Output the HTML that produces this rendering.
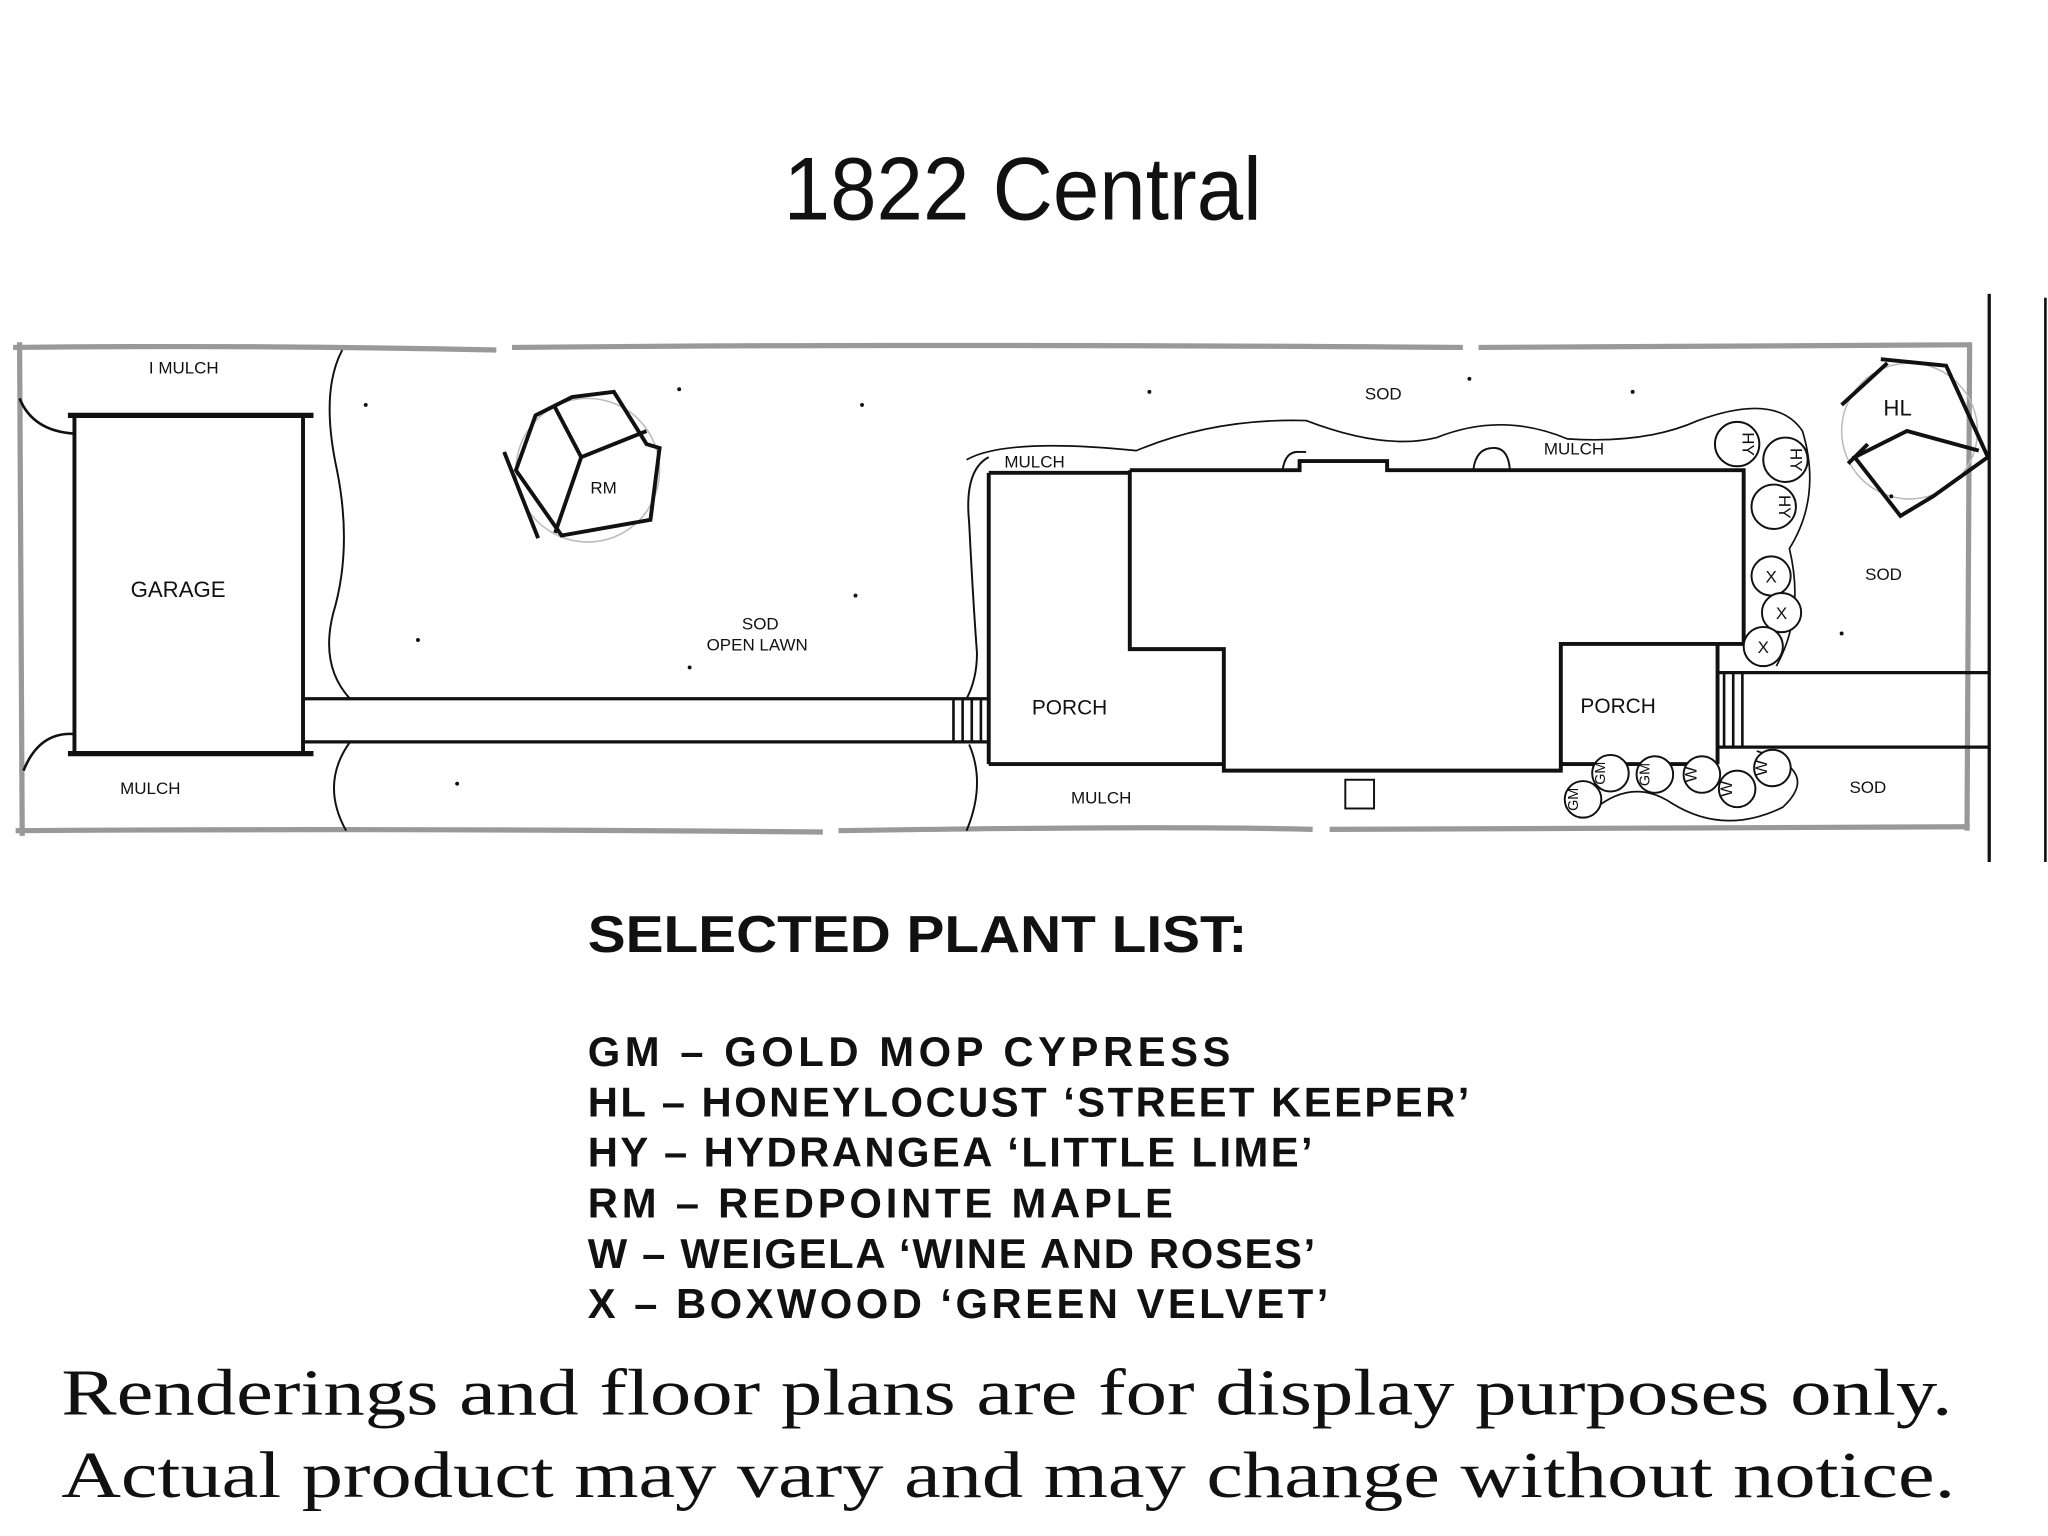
<!DOCTYPE html>
<html><head><meta charset="utf-8"><style>
html,body{margin:0;padding:0;background:#fff;}
svg{display:block;}
.s{font-family:"Liberation Sans",sans-serif;fill:#111;}
.l{font-family:"Liberation Sans",sans-serif;font-weight:bold;fill:#111;}
.f{font-family:"Liberation Serif",serif;fill:#111;}
</style></head><body>
<svg width="2048" height="1536" viewBox="0 0 1568 1176" xmlns="http://www.w3.org/2000/svg">
<rect width="1568" height="1176" fill="#fff"/>
<text x="783" y="168" text-anchor="middle" class="s" font-size="68" textLength="366" lengthAdjust="spacingAndGlyphs">1822 Central</text>

<!-- property lines gray -->
<g stroke="#999" stroke-width="4" fill="none">
<path d="M10 266 Q200 264 380 268 M392 266 Q700 263 1120 266 M1132 266 L1508 264"/>
<path d="M12 636 Q300 634 630 637 M642 636 Q900 632 1005 635 M1018 635 L1508 633"/>
<path d="M15 262 L17 640"/>
<path d="M1508 262 L1506 636"/>
</g>
<g stroke="#111" stroke-width="2.5" fill="none">
<path d="M1523 225 L1523 660"/>
<path d="M1566 228 L1566 660" stroke-width="2"/>
</g>

<!-- garage -->
<g stroke="#111" fill="none">
<rect x="57" y="318" width="175" height="259" stroke-width="3"/>
<path d="M52 318 L240 318 M52 577 L240 577" stroke-width="4"/>
<path d="M15 305 Q25 330 57 332 M57 562 Q30 560 18 590" stroke-width="2"/>
<!-- walkway -->
<path d="M232 535 L757 535 M232 568 L757 568" stroke-width="2.5"/>
<path d="M730 535 V568 M737 535 V568 M744 535 V568 M751 535 V568" stroke-width="2"/>
<!-- sod boundaries -->
<path d="M262 268 Q245 300 258 360 Q270 420 255 470 Q245 510 268 535" stroke-width="1.5"/>
<path d="M268 568 Q245 600 265 636" stroke-width="1.5"/>
<path d="M757 350 Q738 360 742 400 Q745 460 748 500 Q748 520 740 535" stroke-width="1.5"/>
<path d="M742 570 Q755 600 740 636" stroke-width="1.5"/>
<path d="M740 352 Q770 335 870 345 Q930 320 1000 322 Q1060 345 1100 335 Q1150 315 1200 336 Q1260 340 1300 322 Q1360 300 1380 330 Q1395 380 1370 420 Q1382 470 1360 510 M1345 575 Q1395 590 1365 618 Q1320 640 1280 615 Q1250 595 1220 620" stroke-width="1.3"/>
<!-- house -->
<g stroke-width="3">
<path d="M757 362 L865 362 M757 362 V585 M757 585 L937 585"/>
<path d="M865 360 L995 360 L995 353 L1062 353 L1062 360 L1335 360 L1335 493"/>
<path d="M865 360 V497 L937 497 V590 L1195 590 V493 L1335 493"/>
<path d="M1195 585 L1315 585 M1315 493 V585"/>
<path d="M982 360 Q984 345 995 346 L1000 346 M1128 360 Q1130 342 1145 343 Q1155 344 1156 360" stroke-width="1.5"/>
</g>
<path d="M1315 515 L1523 515 M1315 572 L1523 572" stroke-width="2.5"/>
<path d="M1320 515 V572 M1327 515 V572 M1334 515 V572" stroke-width="2"/>
<rect x="1030" y="597" width="22" height="22" stroke-width="1.5"/>
</g>

<!-- RM tree -->
<g stroke="#111" fill="none" stroke-width="3">
<circle cx="450" cy="360" r="55" stroke="#bbb" stroke-width="1.2"/>
<path d="M410 318 L438 304 L470 300 L495 340 L505 343 L498 398 L430 410 L395 360 Z"/>
<path d="M425 312 L445 350 L495 330 M445 350 L425 408"/>
<path d="M386 346 L412 412"/>
</g>
<text x="452" y="378" class="s" font-size="13">RM</text>

<!-- HL tree -->
<g stroke="#111" fill="none" stroke-width="3">
<circle cx="1462" cy="330" r="52" stroke="#bbb" stroke-width="1.2"/>
<path d="M1440 275 L1490 280 L1522 350 L1480 380 L1455 395 L1420 350 L1460 330 L1515 345"/>
<path d="M1410 310 L1445 278 M1415 355 L1430 340"/>
</g>
<text x="1442" y="318" class="s" font-size="17">HL</text>

<!-- plant circles -->
<g stroke="#111" fill="#fff" stroke-width="1.5">
<circle cx="1330" cy="340" r="17"/><circle cx="1367" cy="352" r="17"/><circle cx="1358" cy="388" r="17"/>
<circle cx="1356" cy="441" r="15"/><circle cx="1364" cy="469" r="15"/><circle cx="1350" cy="495" r="15"/>
<circle cx="1233" cy="592" r="14"/><circle cx="1267" cy="593" r="14"/><circle cx="1212" cy="612" r="14"/>
<circle cx="1303" cy="593" r="14"/><circle cx="1357" cy="588" r="14"/><circle cx="1330" cy="604" r="14"/>
</g>
<g class="s" font-size="13" text-anchor="middle">
<text transform="translate(1334,340) rotate(90)">HY</text>
<text transform="translate(1371,352) rotate(90)">HY</text>
<text transform="translate(1362,388) rotate(90)">HY</text>
<text x="1356" y="446">X</text><text x="1364" y="474">X</text><text x="1350" y="500">X</text>
<text transform="translate(1229,592) rotate(-90)" font-size="11">GM</text>
<text transform="translate(1263,593) rotate(-90)" font-size="11">GM</text>
<text transform="translate(1208,612) rotate(-90)" font-size="11">GM</text>
<text transform="translate(1299,593) rotate(-90)">W</text>
<text transform="translate(1353,588) rotate(-90)">W</text>
<text transform="translate(1326,604) rotate(-90)">W</text>
</g>

<!-- labels -->
<g class="s" font-size="13">
<text x="114" y="286">I MULCH</text>
<text x="100" y="457" font-size="17">GARAGE</text>
<text x="568" y="482">SOD</text>
<text x="541" y="498">OPEN LAWN</text>
<text x="92" y="608">MULCH</text>
<text x="769" y="358">MULCH</text>
<text x="1045" y="306">SOD</text>
<text x="1182" y="348">MULCH</text>
<text x="1428" y="444">SOD</text>
<text x="790" y="547" font-size="16">PORCH</text>
<text x="1210" y="546" font-size="16">PORCH</text>
<text x="820" y="615">MULCH</text>
<text x="1416" y="607">SOD</text>
</g>
<g fill="#111">
<circle cx="280" cy="310" r="1.5"/><circle cx="520" cy="298" r="1.5"/><circle cx="660" cy="310" r="1.5"/>
<circle cx="655" cy="456" r="1.5"/><circle cx="320" cy="490" r="1.5"/><circle cx="528" cy="511" r="1.5"/>
<circle cx="880" cy="300" r="1.5"/><circle cx="1125" cy="290" r="1.5"/><circle cx="1250" cy="300" r="1.5"/>
<circle cx="1410" cy="485" r="1.5"/><circle cx="1448" cy="380" r="1.5"/><circle cx="350" cy="600" r="1.5"/>
</g>

<!-- plant list -->
<text x="450" y="729" class="l" font-size="40" textLength="505" lengthAdjust="spacingAndGlyphs">SELECTED PLANT LIST:</text>
<g class="l" font-size="32" lengthAdjust="spacingAndGlyphs">
<text x="450" y="816" textLength="492">GM – GOLD MOP CYPRESS</text>
<text x="450" y="855" textLength="675">HL – HONEYLOCUST ‘STREET KEEPER’</text>
<text x="450" y="893" textLength="555">HY – HYDRANGEA ‘LITTLE LIME’</text>
<text x="450" y="932" textLength="448">RM – REDPOINTE MAPLE</text>
<text x="450" y="971" textLength="557">W – WEIGELA ‘WINE AND ROSES’</text>
<text x="450" y="1009" textLength="567">X – BOXWOOD ‘GREEN VELVET’</text>
</g>

<text x="47" y="1083" class="f" font-size="50" textLength="1448" lengthAdjust="spacingAndGlyphs">Renderings and floor plans are for display purposes only.</text>
<text x="47" y="1146" class="f" font-size="50" textLength="1450" lengthAdjust="spacingAndGlyphs">Actual product may vary and may change without notice.</text>
</svg>
</body></html>
